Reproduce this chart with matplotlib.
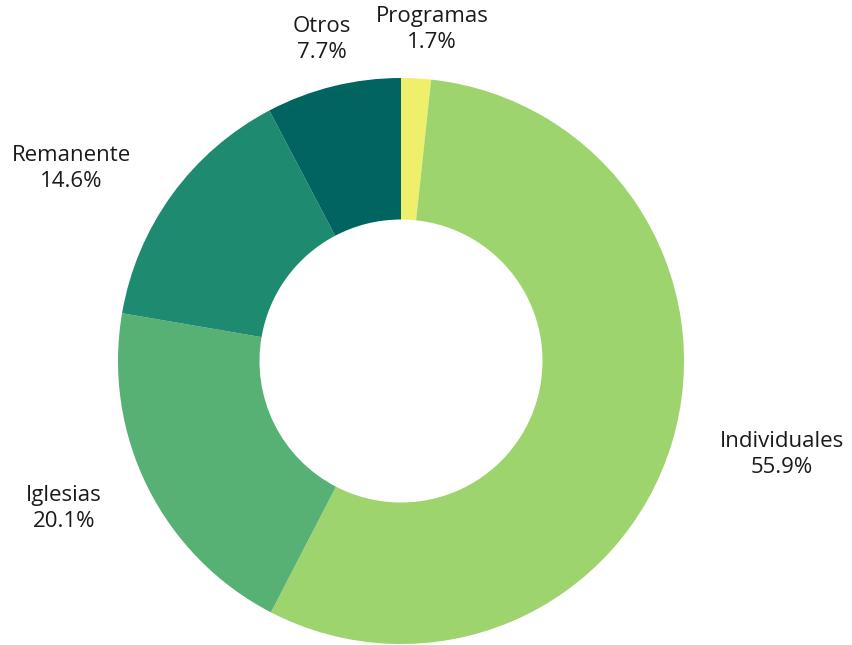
import matplotlib

matplotlib.use('Agg')
import matplotlib.pyplot as plt

# Datos del gráfico
categorias = ['Programas', 'Individuales', 'Iglesias', 'Remanente', 'Otros']
porcentajes = [1.7, 55.9, 20.1, 14.6, 7.7]
colores = ['#eef06b', '#9dd46e', '#57b074', '#1e8a6f', '#006461']

# Posiciones de las etiquetas (unidades del radio)
pos_etiquetas = [(0.11, 1.17), (1.345, -0.33), (-1.19, -0.52), (-1.165, 0.68), (-0.28, 1.135)]

plt.rcParams['font.family'] = ['Open Sans', 'DejaVu Sans']

fig = plt.figure(figsize=(8.53, 6.45), dpi=100)
radio_px = 283
cx, cy = 401, 645 - 361
ax = fig.add_axes([(cx - radio_px) / 853, (cy - radio_px) / 645,
                   2 * radio_px / 853, 2 * radio_px / 645])

ax.pie(porcentajes, colors=colores, startangle=90, counterclock=False,
       radius=1, wedgeprops=dict(width=0.5, edgecolor='none'))

for nombre, valor, (x, y) in zip(categorias, porcentajes, pos_etiquetas):
    ax.text(x, y, f'{nombre}\n{valor:.1f}%', ha='center', va='center',
            fontsize=16, linespacing=1.3, color='#1a1a1a')

ax.set_xlim(-1, 1)
ax.set_ylim(-1, 1)
ax.set_aspect('equal')
ax.axis('off')

fig.savefig('out.png', dpi=100)
plt.close(fig)
